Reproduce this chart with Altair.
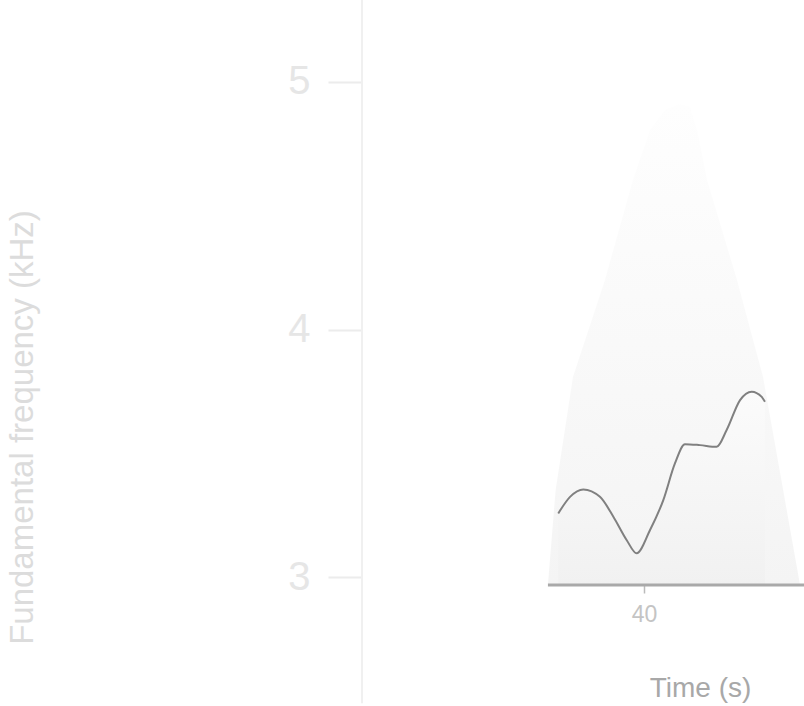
import altair as alt
import pandas as pd

# Curve: time (s) and value
time_s = [34.18, 34.98, 35.88, 37.01, 37.92, 38.83, 39.50, 40.41, 41.31, 42.10,
          42.78, 43.80, 44.93, 45.61, 46.52, 47.31, 47.99, 48.21]
value = [3.257, 3.324, 3.354, 3.324, 3.244, 3.149, 3.096, 3.190, 3.311, 3.459,
         3.537, 3.533, 3.526, 3.594, 3.715, 3.749, 3.728, 3.708]

# Faint cone shape behind the curve
cone_x = [33.48, 34.00, 35.18, 37.35, 39.25, 40.41, 41.43, 42.44, 43.12, 43.60, 44.28,
          46.31, 48.08, 50.59]
cone_y = [2.968, 3.350, 3.808, 4.200, 4.604, 4.806, 4.887, 4.911, 4.899, 4.806, 4.604,
          4.200, 3.808, 2.968]

x_ticks = [40]
y_ticks = [3, 4, 5]
x_domain = [20.86, 50.86]
y_domain = [2.968, 5.331]
base_x = [33.48, 50.86]
y_line = [2.49, 5.331]

curve = pd.DataFrame({"t": time_s, "v": value})
cone = pd.DataFrame({"t": cone_x, "v": cone_y})
base = pd.DataFrame({"t": [base_x[0]], "t2": [base_x[1]], "v": [y_domain[0]]})
yl = pd.DataFrame({"t": [x_domain[0]], "v": [y_line[0]], "v2": [y_line[1]]})

xs = alt.Scale(domain=x_domain, nice=False, zero=False)
ys = alt.Scale(domain=y_domain, nice=False, zero=False)

x_axis = alt.Axis(values=x_ticks, domain=False, grid=False, tickSize=8,
                  tickColor="#bbbbbb", tickWidth=1.5, labelFontSize=23,
                  labelColor="#c4c4c4", labelPadding=10, labelFont="Liberation Sans",
                  title="Time (s)", titleFontSize=28, titleColor="#a8a8a8",
                  titleFont="Liberation Sans", titleFontWeight="normal",
                  titleX=338, titleY=111, titleAlign="center",
                  titleBaseline="alphabetic")
y_axis = alt.Axis(values=y_ticks, format="d", domain=False,
                  grid=False, tickSize=34, tickColor="#ececec", tickWidth=2,
                  labelFontSize=40, labelColor="#e6e6e6", labelPadding=18,
                  labelFont="Liberation Sans",
                  title="Fundamental frequency (kHz)", titleFontSize=33,
                  titleColor="#dcdcdc", titleFont="Liberation Sans",
                  titleFontWeight="normal", titleX=-330, titleY=427,
                  titleAngle=270, titleAlign="center", titleBaseline="alphabetic")

cone_layer = alt.Chart(cone).mark_area(
    interpolate="linear",
    color=alt.Gradient(gradient="linear",
                       stops=[alt.GradientStop(color="#fefefe", offset=0),
                              alt.GradientStop(color="#f4f4f4", offset=1)],
                       x1=1, x2=1, y1=0, y2=1),
).encode(
    x=alt.X("t:Q", scale=xs, axis=x_axis),
    y=alt.Y("v:Q", scale=ys, axis=y_axis),
    y2=alt.datum(y_domain[0]),
)

fill_layer = alt.Chart(curve).mark_area(
    interpolate="monotone",
    color=alt.Gradient(gradient="linear",
                       stops=[alt.GradientStop(color="#fbfbfb", offset=0),
                              alt.GradientStop(color="#f1f1f1", offset=1)],
                       x1=1, x2=1, y1=0, y2=1),
).encode(
    x=alt.X("t:Q", scale=xs),
    y=alt.Y("v:Q", scale=ys),
    y2=alt.datum(y_domain[0]),
)

line_layer = alt.Chart(curve).mark_line(
    interpolate="monotone", color="#808080", strokeWidth=2
).encode(
    x=alt.X("t:Q", scale=xs),
    y=alt.Y("v:Q", scale=ys),
)

base_layer = alt.Chart(base).mark_rule(color="#a9a9a9", strokeWidth=3).encode(
    x=alt.X("t:Q", scale=xs),
    x2="t2:Q",
    y=alt.Y("v:Q", scale=ys),
)

yline_layer = alt.Chart(yl).mark_rule(color="#f0f0f0", strokeWidth=2).encode(
    x=alt.X("t:Q", scale=xs),
    y=alt.Y("v:Q", scale=ys),
    y2="v2:Q",
)

chart = alt.layer(yline_layer, cone_layer, fill_layer, line_layer, base_layer).properties(
    width=442, height=585,
    autosize=alt.AutoSizeParams(type="none"),
    padding={"left": 362, "top": 0, "right": 0, "bottom": 121},
).configure_view(stroke=None)

chart.save("out.html", embed_options={"renderer": "svg", "actions": False})
